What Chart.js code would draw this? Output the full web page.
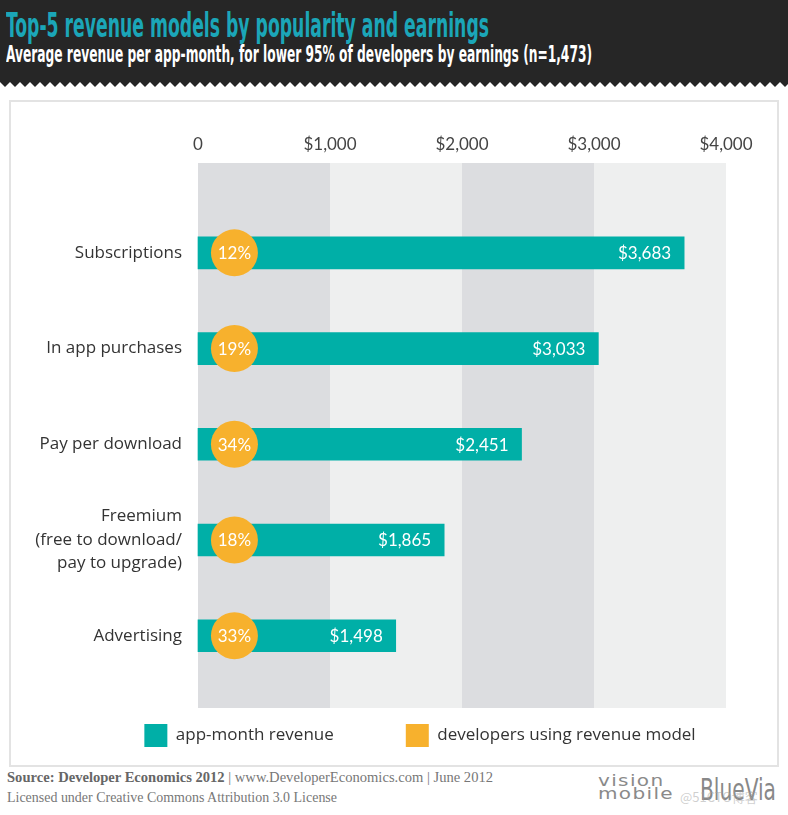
<!DOCTYPE html>
<html>
<head>
<meta charset="utf-8">
<script src="https://cdn.jsdelivr.net/npm/chart.js@4.4.1/dist/chart.umd.min.js"></script>
<style>
  html, body { margin: 0; padding: 0; background: #fff; }
  body { width: 788px; height: 815px; position: relative; overflow: hidden; }
  #head { position: absolute; left: 0; top: 0; width: 788px; height: 82px; background: #262626; }
  #zig { position: absolute; left: 0; top: 82px; width: 788px; height: 5px;
    background: url("data:image/svg+xml,%3Csvg xmlns='http://www.w3.org/2000/svg' width='10' height='5'%3E%3Cpolygon points='0,0 10,0 5,5' fill='%23262626'/%3E%3C/svg%3E") repeat-x; }
  .hd { position: absolute; left: 6px; white-space: nowrap; transform-origin: 0 0;
    font-family: "Liberation Sans Narrow", "DejaVu Sans Condensed", sans-serif; font-weight: bold; }
  #title { top: 5px; font-size: 34px; color: #1ba6b8; }
  #subtitle { top: 41px; font-size: 23px; color: #fff; }
  #panel { position: absolute; left: 9px; top: 100px; width: 766px; height: 663px; border: 2px solid #e3e3e3; box-sizing: content-box; }
  #wrap { position: absolute; left: 10px; top: 100px; width: 768px; height: 666px; }
  .foot { position: absolute; left: 7px; font-family: "Liberation Serif", "DejaVu Serif", serif; font-size: 14px; color: #777; white-space: nowrap; transform-origin: 0 0; }
  .foot b { color: #666; }
  #vm { position: absolute; left: 598px; top: 775px; font-family: "DejaVu Sans", sans-serif; font-size: 15px; line-height: 13px; color: #8a8a8a; letter-spacing: 1px; transform-origin: 0 0; }
  #bv { position: absolute; left: 700px; top: 772px; font-family: "Liberation Sans Narrow", "DejaVu Sans Condensed", sans-serif; font-size: 30px; color: #888; transform-origin: 0 0; }
  #wm { position: absolute; left: 680px; top: 787px; font-family: "Noto Sans CJK SC", sans-serif; font-size: 13px; color: rgba(160,160,160,0.5); }
</style>
</head>
<body>
<div id="head"></div>
<div id="zig"></div>
<div id="title" class="hd">Top-5 revenue models by popularity and earnings</div>
<div id="subtitle" class="hd">Average revenue per app-month, for lower 95% of developers by earnings (n=1,473)</div>
<div id="panel"></div>
<div id="wrap"><canvas id="myChart" width="768" height="666"></canvas></div>
<div id="f1" class="foot" style="top:770px"><b>Source: Developer Economics 2012</b> | www.DeveloperEconomics.com | June 2012</div>
<div id="f2" class="foot" style="top:790px">Licensed under Creative Commons Attribution 3.0 License</div>
<div id="vm">vision<br>mobile</div>
<div id="bv">BlueVia</div>
<div id="wm">@51CTO博客</div>
<script>
// data
const categories = ['Subscriptions', 'In app purchases', 'Pay per download',
                    ['Freemium', '(free to download/', 'pay to upgrade)'], 'Advertising'];
const revenue = [3683, 3033, 2451, 1865, 1498];
const usingModel = [12, 19, 34, 18, 33];
const tickValues = [0, 1000, 2000, 3000, 4000];

const TEAL = '#00afa7';
const ORANGE = '#f7b12d';
const circleAt = 276; // where the % bubbles sit on the $ axis

// stretch text lines to the width they have in the picture
function fitWidth(id, w) {
  const el = document.getElementById(id);
  const r = el.getBoundingClientRect();
  el.style.transform = 'scaleX(' + (w / r.width) + ')';
}
fitWidth('title', 483);
fitWidth('subtitle', 586);
fitWidth('f1', 486);
fitWidth('f2', 330);
fitWidth('vm', 76);
fitWidth('bv', 76);

// grey/light bands behind the bars, one per $1,000
const bands = {
  id: 'bands',
  beforeDatasetsDraw(chart) {
    const ctx = chart.ctx, x = chart.scales.x, a = chart.chartArea;
    for (let i = 0; i < tickValues.length - 1; i++) {
      const x0 = x.getPixelForValue(tickValues[i]);
      const x1 = x.getPixelForValue(tickValues[i + 1]);
      ctx.fillStyle = i % 2 === 0 ? '#dcdde0' : '#eeefef';
      ctx.fillRect(x0, a.top - 42, x1 - x0, a.bottom - a.top + 98);
    }
  }
};

// white numbers on the bars and in the bubbles
const valueLabels = {
  id: 'valueLabels',
  afterDatasetsDraw(chart) {
    const ctx = chart.ctx;
    ctx.save();
    ctx.fillStyle = '#fff';
    ctx.textBaseline = 'middle';
    ctx.font = '17px Lato';
    chart.getDatasetMeta(0).data.forEach((bar, i) => {
      ctx.textAlign = 'right';
      ctx.fillText('$' + revenue[i].toLocaleString('en-US'), bar.x - 13, bar.y + 1);
    });
    ctx.font = '17px Lato';
    chart.getDatasetMeta(1).data.forEach((pt, i) => {
      ctx.textAlign = 'center';
      ctx.fillText(usingModel[i] + '%', pt.x, pt.y + 1);
    });
    ctx.restore();
  }
};

// nudge the legend row to where it sits in the picture
const legendShift = {
  id: 'legendShift',
  afterLayout(chart) {
    chart.legend.left += 52;
    chart.legend.right += 52;
  }
};

const config = {
  data: {
    datasets: [
      {
        type: 'bar',
        label: 'app-month revenue',
        data: revenue.map((v, i) => ({ x: v, y: i })),
        backgroundColor: TEAL,
        borderWidth: 0,
        barThickness: 32,
        clip: false
      },
      {
        type: 'scatter',
        label: 'developers using revenue model',
        data: usingModel.map((v, i) => ({ x: circleAt, y: i })),
        backgroundColor: ORANGE,
        borderWidth: 0,
        pointRadius: 23.5,
        pointHoverRadius: 23.5,
        order: -1,
        clip: false
      }
    ]
  },
  options: {
    indexAxis: 'y',
    responsive: false,
    animation: false,
    layout: { padding: { left: 0, right: 52, top: 0, bottom: 9 } },
    scales: {
      x: {
        type: 'linear',
        position: 'top',
        min: 0,
        max: 4000,
        grid: { display: false, drawTicks: false },
        border: { display: false },
        afterBuildTicks: s => { s.ticks = tickValues.map(v => ({ value: v })); },
        afterFit: s => { s.height = 105; s.paddingLeft = 0; s.paddingRight = 0; },
        ticks: {
          padding: 50,
          color: '#444',
          font: { family: 'Lato', size: 17 },
          maxRotation: 0,
          callback: v => v === 0 ? '0' : '$' + v.toLocaleString('en-US')
        }
      },
      y: {
        type: 'linear',
        reverse: true,
        offset: false,
        min: -0.5,
        max: 4.17,
        grid: { display: false, drawTicks: false },
        border: { display: false },
        afterBuildTicks: s => { s.ticks = categories.map((c, i) => ({ value: i })); },
        afterFit: s => { s.width = 188; s.paddingTop = 0; s.paddingBottom = 0; },
        ticks: {
          padding: 16,
          color: '#333',
          font: { family: 'Open Sans', size: 17, lineHeight: 1.38 },
          callback: v => categories[v]
        }
      }
    },
    plugins: {
      legend: {
        position: 'bottom',
        labels: {
          boxWidth: 23,
          boxHeight: 23,
          padding: 72,
          color: '#333',
          font: { family: 'Open Sans', size: 17 },
          sort: (a, b) => a.datasetIndex - b.datasetIndex
        }
      },
      tooltip: { enabled: false }
    }
  },
  plugins: [bands, valueLabels, legendShift]
};

const myChart = new Chart(document.getElementById('myChart'), config);
</script>
</body>
</html>
